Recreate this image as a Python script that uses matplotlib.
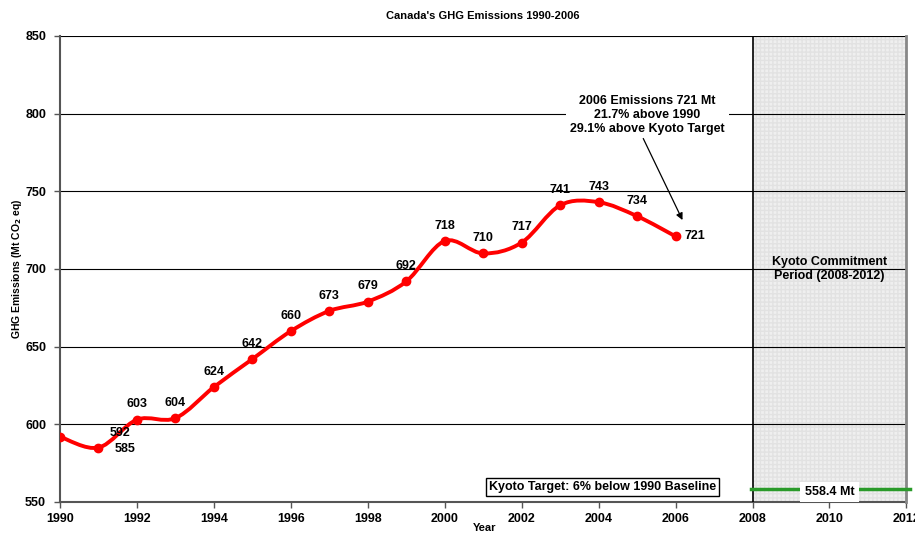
import numpy as np
import matplotlib
matplotlib.use("Agg")
import matplotlib.pyplot as plt
from matplotlib.path import Path
from matplotlib.patches import PathPatch

years = [1990, 1991, 1992, 1993, 1994, 1995, 1996, 1997, 1998,
         1999, 2000, 2001, 2002, 2003, 2004, 2005, 2006]
emissions = [592, 585, 603, 604, 624, 642, 660, 673, 679,
             692, 718, 710, 717, 741, 743, 734, 721]
kyoto_target = 558.4
kyoto_start, kyoto_end = 2008, 2012

plt.rcParams['font.family'] = ['Liberation Sans', 'DejaVu Sans']

fig = plt.figure(figsize=(9.15, 5.33), dpi=100)
ax = fig.add_axes([0.0656, 0.0582, 0.925, 0.8743])

# smoothed line like excel (catmull-rom as bezier segments)
pts = np.column_stack([years, emissions]).astype(float)
verts = [pts[0]]
codes = [Path.MOVETO]
n = len(pts)
for i in range(n - 1):
    p0 = pts[i - 1] if i > 0 else pts[i]
    p1 = pts[i]
    p2 = pts[i + 1]
    p3 = pts[i + 2] if i + 2 < n else pts[i + 1]
    c1 = p1 + (p2 - p0) / 6.0
    c2 = p2 - (p3 - p1) / 6.0
    verts += [c1, c2, p2]
    codes += [Path.CURVE4] * 3
ax.add_patch(PathPatch(Path(verts, codes), facecolor='none', edgecolor='#ff0000',
                       lw=2.8, zorder=4, capstyle='round'))
ax.plot(years, emissions, 'o', color='#ff0000', ms=6, zorder=5)

# data labels (offsets in points)
offsets = {1990: (43, 3), 1991: (19, -1), 2006: (14, 0)}
for yr, v in zip(years, emissions):
    dx, dy = offsets.get(yr, (0, 11))
    ax.annotate(str(v), (yr, v), xytext=(dx, dy), textcoords='offset points',
                ha='center', va='center', fontsize=9, fontweight='bold', zorder=6)

# kyoto commitment period
ax.axvspan(kyoto_start, kyoto_end, facecolor='#efefef', edgecolor='#e2e2e2',
           hatch='++++', lw=0, zorder=0)
ax.axvline(kyoto_start, color='black', lw=1.2, zorder=3)
ax.axvline(kyoto_end, color='#888888', lw=2, zorder=3, clip_on=False)
ax.text(2010, 700, "Kyoto Commitment\nPeriod (2008-2012)", ha='center', va='center',
        fontsize=9, fontweight='bold', linespacing=1.15, zorder=6)
ax.plot([kyoto_start - 0.05, kyoto_end + 0.1], [kyoto_target, kyoto_target],
        color='#2a9a2a', lw=2.5, zorder=4, clip_on=False)
ax.text(2010, kyoto_target - 2, "558.4 Mt", ha='center', va='center', fontsize=9,
        fontweight='bold', zorder=6,
        bbox=dict(boxstyle='square,pad=0.35', facecolor='white', edgecolor='none'))
ax.text(2004.1, 559.5, "Kyoto Target: 6% below 1990 Baseline", ha='center', va='center',
        fontsize=9, fontweight='bold', zorder=6,
        bbox=dict(boxstyle='square,pad=0.25', facecolor='white', edgecolor='black', lw=1))

# 2006 callout
ax.text(2005.27, 799, "2006 Emissions 721 Mt\n21.7% above 1990\n29.1% above Kyoto Target",
        ha='center', va='center', fontsize=9, fontweight='bold', linespacing=1.25, zorder=6,
        bbox=dict(boxstyle='square,pad=0.3', facecolor='white', edgecolor='none'))
ax.annotate("", xy=(2006.18, 731.5), xytext=(2005.16, 784),
            arrowprops=dict(arrowstyle='-|>', color='black', lw=0.9,
                            shrinkA=0, shrinkB=0, mutation_scale=10), zorder=6)

ax.set_xlim(1990, 2012)
ax.set_ylim(550, 850)
ax.set_xticks(range(1990, 2013, 2))
ax.set_yticks(range(550, 851, 50))
ax.yaxis.grid(True, color='black', lw=0.8)
ax.set_axisbelow(True)
for s in ['top', 'right']:
    ax.spines[s].set_visible(False)
ax.spines['left'].set_color('#555555')
ax.spines['left'].set_linewidth(1.5)
ax.spines['bottom'].set_color('#555555')
ax.spines['bottom'].set_linewidth(1.5)
ax.tick_params(axis='both', direction='out', length=4, width=1, color='#555555',
               labelsize=9)
for lab in ax.get_xticklabels() + ax.get_yticklabels():
    lab.set_fontweight('bold')
ax.tick_params(axis='x', pad=4)
ax.tick_params(axis='y', pad=6)

ax.set_title("Canada's GHG Emissions 1990-2006", fontsize=8, fontweight='bold', pad=12)
ax.set_ylabel("GHG Emissions (Mt CO$_\\mathbf{2}$ eq)", fontsize=7.5, fontweight='bold',
              labelpad=1)
fig.text(0.53, 0.0, "Year", ha='center', va='bottom', fontsize=8, fontweight='bold')

fig.savefig("out.png", dpi=100)
